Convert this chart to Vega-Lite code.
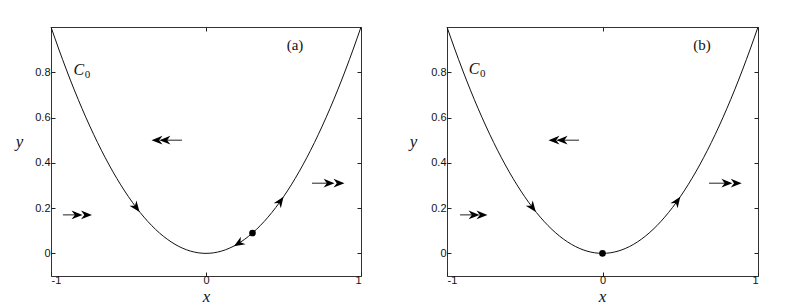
{
  "$schema": "https://vega.github.io/schema/vega-lite/v6.json",
  "padding": {"left": 14, "top": 24, "right": 0, "bottom": 0},
  "background": "white",
  "bounds": "flush",
  "spacing": 86,
  "config": {
    "view": {"stroke": "#333", "strokeWidth": 1},
    "axis": {
      "domain": false, "grid": false,
      "tickColor": "#222", "tickSize": -4, "tickWidth": 1,
      "labelFont": "Liberation Sans, Arial, sans-serif", "labelFontSize": 11, "labelColor": "#111",
      "titleFont": "Liberation Serif, Times New Roman, serif", "titleFontStyle": "italic", "titleFontWeight": "normal",
      "titleFontSize": 17, "titleColor": "#111"
    }
  },
  "datasets": {
    "curve": [
      {"x": -1, "y": 1}, {"x": -0.95, "y": 0.9025}, {"x": -0.9, "y": 0.81}, {"x": -0.85, "y": 0.7225},
      {"x": -0.8, "y": 0.64}, {"x": -0.75, "y": 0.5625}, {"x": -0.7, "y": 0.49}, {"x": -0.65, "y": 0.4225},
      {"x": -0.6, "y": 0.36}, {"x": -0.55, "y": 0.3025}, {"x": -0.5, "y": 0.25}, {"x": -0.45, "y": 0.2025},
      {"x": -0.4, "y": 0.16}, {"x": -0.35, "y": 0.1225}, {"x": -0.3, "y": 0.09}, {"x": -0.25, "y": 0.0625},
      {"x": -0.2, "y": 0.04}, {"x": -0.15, "y": 0.0225}, {"x": -0.1, "y": 0.01}, {"x": -0.05, "y": 0.0025},
      {"x": 0, "y": 0},
      {"x": 0.05, "y": 0.0025}, {"x": 0.1, "y": 0.01}, {"x": 0.15, "y": 0.0225}, {"x": 0.2, "y": 0.04},
      {"x": 0.25, "y": 0.0625}, {"x": 0.3, "y": 0.09}, {"x": 0.35, "y": 0.1225}, {"x": 0.4, "y": 0.16},
      {"x": 0.45, "y": 0.2025}, {"x": 0.5, "y": 0.25}, {"x": 0.55, "y": 0.3025}, {"x": 0.6, "y": 0.36},
      {"x": 0.65, "y": 0.4225}, {"x": 0.7, "y": 0.49}, {"x": 0.75, "y": 0.5625}, {"x": 0.8, "y": 0.64},
      {"x": 0.85, "y": 0.7225}, {"x": 0.9, "y": 0.81}, {"x": 0.95, "y": 0.9025}, {"x": 1, "y": 1}
    ],
    "shaftsA": [
      {"x1": -0.923, "x2": -0.82, "y": 0.17},
      {"x1": -0.155, "x2": -0.29, "y": 0.5},
      {"x1": 0.684, "x2": 0.8, "y": 0.31}
    ],
    "headsA": [
      {"x": -0.832, "y": 0.17, "a": 0}, {"x": -0.771, "y": 0.17, "a": 0},
      {"x": -0.316, "y": 0.5, "a": 180}, {"x": -0.265, "y": 0.5, "a": 180},
      {"x": 0.794, "y": 0.31, "a": 0}, {"x": 0.858, "y": 0.31, "a": 0},
      {"x": -0.45, "y": 0.2025, "a": 53},
      {"x": 0.48, "y": 0.2304, "a": 305},
      {"x": 0.21, "y": 0.0441, "a": 148}
    ],
    "dotA": [{"x": 0.3, "y": 0.09}],
    "cA": [{"x": -0.82, "y": 0.812, "t": "C"}],
    "subA": [{"x": -0.764, "y": 0.79, "t": "0"}],
    "labA": [{"x": 0.574, "y": 0.92, "t": "(a)"}],
    "shaftsB": [
      {"x1": -0.916, "x2": -0.81, "y": 0.17},
      {"x1": -0.151, "x2": -0.29, "y": 0.5},
      {"x1": 0.685, "x2": 0.8, "y": 0.31}
    ],
    "headsB": [
      {"x": -0.826, "y": 0.17, "a": 0}, {"x": -0.775, "y": 0.17, "a": 0},
      {"x": -0.312, "y": 0.5, "a": 180}, {"x": -0.26, "y": 0.5, "a": 180},
      {"x": 0.8, "y": 0.31, "a": 0}, {"x": 0.86, "y": 0.31, "a": 0},
      {"x": -0.45, "y": 0.2025, "a": 53},
      {"x": 0.48, "y": 0.2304, "a": 305}
    ],
    "dotB": [{"x": 0, "y": 0}],
    "cB": [{"x": -0.826, "y": 0.814, "t": "C"}],
    "subB": [{"x": -0.77, "y": 0.792, "t": "0"}],
    "labB": [{"x": 0.64, "y": 0.92, "t": "(b)"}]
  },
  "hconcat": [
    {
      "width": 310, "height": 249,
      "layer": [
        {
          "data": {"name": "curve"},
          "mark": {"type": "line", "color": "#111", "strokeWidth": 1, "interpolate": "monotone"},
          "encoding": {
            "x": {"field": "x", "type": "quantitative", "scale": {"domain": [-1, 1], "nice": false, "zero": false},
                  "axis": {"values": [-1, 0, 1], "labelExpr": "'' + datum.value", "labelPadding": 2, "title": "x", "titleX": 155, "titleY": 25, "titleBaseline": "alphabetic"}},
            "y": {"field": "y", "type": "quantitative", "scale": {"domain": [-0.1, 1], "nice": false, "zero": false},
                  "axis": {"values": [0, 0.2, 0.4, 0.6, 0.8], "labelExpr": "'' + datum.value", "labelPadding": 5, "title": "y", "titleAngle": 0, "titleX": -32, "titleY": 119, "titleAlign": "center", "titleBaseline": "alphabetic"}}
          }
        },
        {
          "data": {"name": "shaftsA"},
          "mark": {"type": "rule", "color": "#222", "strokeWidth": 1},
          "encoding": {
            "x": {"field": "x1", "type": "quantitative", "axis": {"orient": "top", "values": [-1, 0, 1], "labels": false, "title": null}},
            "x2": {"field": "x2"},
            "y": {"field": "y", "type": "quantitative", "axis": {"orient": "right", "values": [0, 0.2, 0.4, 0.6, 0.8], "labels": false, "title": null}}
          }
        },
        {
          "data": {"name": "headsA"},
          "mark": {"type": "point", "shape": "M1,0L-1,-0.8L-0.4,0L-1,0.8Z", "filled": true, "color": "#000", "opacity": 1, "size": 120},
          "encoding": {
            "x": {"field": "x", "type": "quantitative", "axis": null},
            "y": {"field": "y", "type": "quantitative", "axis": null},
            "angle": {"field": "a", "type": "quantitative", "scale": null}
          }
        },
        {
          "data": {"name": "dotA"},
          "mark": {"type": "circle", "color": "#000", "opacity": 1, "size": 45},
          "encoding": {
            "x": {"field": "x", "type": "quantitative", "axis": null},
            "y": {"field": "y", "type": "quantitative", "axis": null}
          }
        },
        {
          "data": {"name": "cA"},
          "mark": {"type": "text", "font": "Liberation Serif, Times New Roman, serif", "fontStyle": "italic", "fontSize": 16, "color": "#111", "baseline": "middle"},
          "encoding": {
            "x": {"field": "x", "type": "quantitative", "axis": null},
            "y": {"field": "y", "type": "quantitative", "axis": null},
            "text": {"field": "t"}
          }
        },
        {
          "data": {"name": "subA"},
          "mark": {"type": "text", "font": "Liberation Serif, Times New Roman, serif", "fontSize": 11, "color": "#111", "baseline": "middle"},
          "encoding": {
            "x": {"field": "x", "type": "quantitative", "axis": null},
            "y": {"field": "y", "type": "quantitative", "axis": null},
            "text": {"field": "t"}
          }
        },
        {
          "data": {"name": "labA"},
          "mark": {"type": "text", "font": "Liberation Serif, Times New Roman, serif", "fontSize": 15, "color": "#111", "baseline": "middle"},
          "encoding": {
            "x": {"field": "x", "type": "quantitative", "axis": null},
            "y": {"field": "y", "type": "quantitative", "axis": null},
            "text": {"field": "t"}
          }
        }
      ],
      "resolve": {"axis": {"x": "independent", "y": "independent"}}
    },
    {
      "width": 311, "height": 249,
      "layer": [
        {
          "data": {"name": "curve"},
          "mark": {"type": "line", "color": "#111", "strokeWidth": 1, "interpolate": "monotone"},
          "encoding": {
            "x": {"field": "x", "type": "quantitative", "scale": {"domain": [-1, 1], "nice": false, "zero": false},
                  "axis": {"values": [-1, 0, 1], "labelExpr": "'' + datum.value", "labelPadding": 2, "title": "x", "titleX": 155, "titleY": 25, "titleBaseline": "alphabetic"}},
            "y": {"field": "y", "type": "quantitative", "scale": {"domain": [-0.1, 1], "nice": false, "zero": false},
                  "axis": {"values": [0, 0.2, 0.4, 0.6, 0.8], "labelExpr": "'' + datum.value", "labelPadding": 5, "title": "y", "titleAngle": 0, "titleX": -34, "titleY": 119, "titleAlign": "center", "titleBaseline": "alphabetic"}}
          }
        },
        {
          "data": {"name": "shaftsB"},
          "mark": {"type": "rule", "color": "#222", "strokeWidth": 1},
          "encoding": {
            "x": {"field": "x1", "type": "quantitative", "axis": {"orient": "top", "values": [-1, 0, 1], "labels": false, "title": null}},
            "x2": {"field": "x2"},
            "y": {"field": "y", "type": "quantitative", "axis": {"orient": "right", "values": [0, 0.2, 0.4, 0.6, 0.8], "labels": false, "title": null}}
          }
        },
        {
          "data": {"name": "headsB"},
          "mark": {"type": "point", "shape": "M1,0L-1,-0.8L-0.4,0L-1,0.8Z", "filled": true, "color": "#000", "opacity": 1, "size": 120},
          "encoding": {
            "x": {"field": "x", "type": "quantitative", "axis": null},
            "y": {"field": "y", "type": "quantitative", "axis": null},
            "angle": {"field": "a", "type": "quantitative", "scale": null}
          }
        },
        {
          "data": {"name": "dotB"},
          "mark": {"type": "circle", "color": "#000", "opacity": 1, "size": 45},
          "encoding": {
            "x": {"field": "x", "type": "quantitative", "axis": null},
            "y": {"field": "y", "type": "quantitative", "axis": null}
          }
        },
        {
          "data": {"name": "cB"},
          "mark": {"type": "text", "font": "Liberation Serif, Times New Roman, serif", "fontStyle": "italic", "fontSize": 16, "color": "#111", "baseline": "middle"},
          "encoding": {
            "x": {"field": "x", "type": "quantitative", "axis": null},
            "y": {"field": "y", "type": "quantitative", "axis": null},
            "text": {"field": "t"}
          }
        },
        {
          "data": {"name": "subB"},
          "mark": {"type": "text", "font": "Liberation Serif, Times New Roman, serif", "fontSize": 11, "color": "#111", "baseline": "middle"},
          "encoding": {
            "x": {"field": "x", "type": "quantitative", "axis": null},
            "y": {"field": "y", "type": "quantitative", "axis": null},
            "text": {"field": "t"}
          }
        },
        {
          "data": {"name": "labB"},
          "mark": {"type": "text", "font": "Liberation Serif, Times New Roman, serif", "fontSize": 15, "color": "#111", "baseline": "middle"},
          "encoding": {
            "x": {"field": "x", "type": "quantitative", "axis": null},
            "y": {"field": "y", "type": "quantitative", "axis": null},
            "text": {"field": "t"}
          }
        }
      ],
      "resolve": {"axis": {"x": "independent", "y": "independent"}}
    }
  ]
}
